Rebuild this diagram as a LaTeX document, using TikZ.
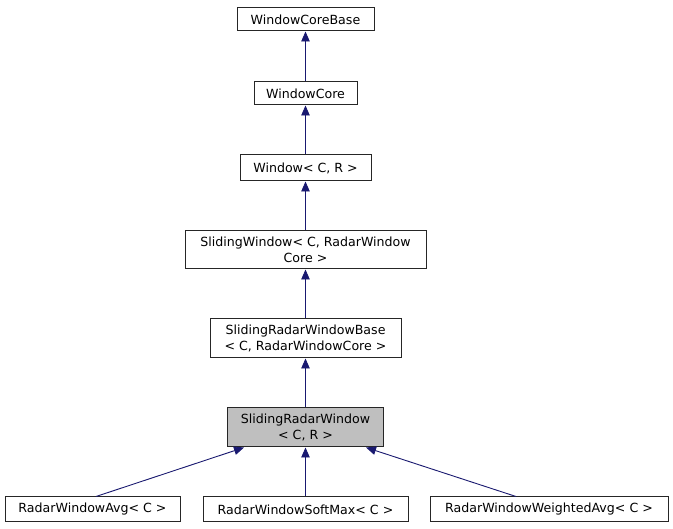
\documentclass[tikz,border=0pt]{standalone}
\usepackage{fontspec}
\setmainfont{DejaVu Sans}
\usetikzlibrary{arrows.meta}
\definecolor{edgeblue}{HTML}{191970}
\definecolor{boxgray}{HTML}{BFBFBF}
\begin{document}
\begin{tikzpicture}[x=1pt,y=-1pt,
  cls/.style={draw=black!85, line width=1pt, fill=white, inner sep=0pt, align=center,
    font=\fontsize{12.6}{15.5}\selectfont},
  inh/.style={draw=edgeblue, line width=0.9pt, {Triangle[length=10pt,width=8.5pt]}-, fill=none}]
\useasboundingbox (0,0) rectangle (673,529);
\fill[white] (0,0) rectangle (673,529);
\node[cls, minimum width=137pt, minimum height=23pt] (wcb) at (305.5,19.5) {WindowCoreBase};
\node[cls, minimum width=103pt, minimum height=23pt] (wc) at (305.5,93.5) {WindowCore};
\node[cls, minimum width=131pt, minimum height=26pt] (w) at (305.5,168) {Window< C, R >};
\node[cls, minimum width=241pt, minimum height=38pt] (sw) at (305.5,250) {SlidingWindow< C, RadarWindow\\Core >};
\node[cls, minimum width=191pt, minimum height=39pt] (srwb) at (305.5,338.5) {SlidingRadarWindowBase\\< C, RadarWindowCore >};
\node[cls, fill=boxgray, minimum width=156pt, minimum height=39pt] (srw) at (305.5,427.5) {SlidingRadarWindow\\< C, R >};
\node[cls, minimum width=175pt, minimum height=25pt] (avg) at (92.5,509.5) {RadarWindowAvg< C >};
\node[cls, minimum width=205pt, minimum height=25pt] (smax) at (305.5,509.5) {RadarWindowSoftMax< C >};
\node[cls, minimum width=238pt, minimum height=25pt] (wavg) at (549,509.5) {RadarWindowWeightedAvg< C >};
\draw[inh] (wcb.south) -- (wc.north);
\draw[inh] (wc.south) -- (w.north);
\draw[inh] (w.south) -- (sw.north);
\draw[inh] (sw.south) -- (srwb.north);
\draw[inh] (srwb.south) -- (srw.north);
\draw[inh] (srw.south) -- (smax.north);
\draw[inh] (srw.south -| 244,0) -- (avg.north -| 96,0);
\draw[inh] (srw.south -| 366,0) -- (wavg.north -| 516,0);
\end{tikzpicture}
\end{document}
